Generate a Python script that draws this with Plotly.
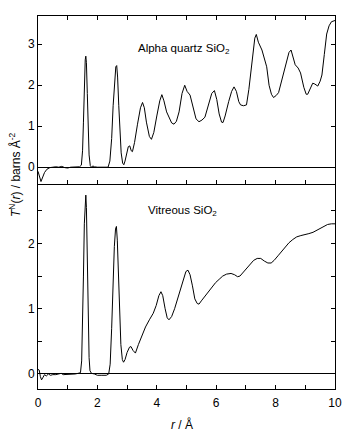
import plotly.graph_objects as go

# Alpha quartz SiO2 (top panel)
r_quartz = [0.00, 0.05, 0.10, 0.16, 0.22, 0.30, 0.40, 0.50, 0.60, 0.70, 0.80, 0.90, 1.00, 1.10, 1.20, 1.30, 1.40,
            1.46, 1.50, 1.53, 1.56, 1.59, 1.61, 1.63, 1.66, 1.69, 1.72, 1.76, 1.80, 1.85, 1.90, 2.00, 2.20, 2.36,
            2.42, 2.48, 2.53, 2.58, 2.62, 2.65, 2.68, 2.72, 2.76, 2.80, 2.85, 2.89, 2.93, 2.98, 3.04, 3.09, 3.14,
            3.18, 3.25, 3.35, 3.45, 3.52, 3.58, 3.65, 3.75, 3.82, 3.90, 4.00, 4.10, 4.17, 4.24, 4.33, 4.42, 4.50,
            4.58, 4.66, 4.75, 4.85, 4.94, 5.02, 5.12, 5.22, 5.32, 5.42, 5.52, 5.62, 5.72, 5.85, 5.94, 6.02, 6.10,
            6.18, 6.23, 6.30, 6.42, 6.52, 6.60, 6.68, 6.76, 6.82, 6.92, 7.02, 7.10, 7.20, 7.30, 7.35, 7.42, 7.54,
            7.62, 7.70, 7.78, 7.86, 7.93, 8.02, 8.10, 8.22, 8.35, 8.45, 8.52, 8.58, 8.66, 8.76, 8.84, 8.95, 9.03,
            9.08, 9.15, 9.25, 9.32, 9.42, 9.50, 9.56, 9.64, 9.72, 9.80, 9.88, 10.00]
t_quartz = [-0.10, -0.25, -0.35, -0.24, -0.13, -0.05, -0.01, 0.00, 0.01, 0.00, 0.02, -0.01, -0.02, 0.00, 0.00, 0.01, 0.01,
            0.05, 0.40, 1.10, 2.00, 2.62, 2.71, 2.55, 1.80, 0.90, 0.30, 0.04, 0.00, 0.03, 0.01, 0.00, 0.00, 0.00,
            0.15, 0.70, 1.50, 2.15, 2.45, 2.48, 2.20, 1.50, 0.80, 0.35, 0.10, 0.06, 0.15, 0.35, 0.50, 0.52, 0.40,
            0.38, 0.60, 1.05, 1.45, 1.58, 1.45, 1.10, 0.75, 0.68, 0.85, 1.25, 1.62, 1.77, 1.62, 1.35, 1.20, 1.08,
            1.05, 1.12, 1.35, 1.80, 2.00, 1.85, 1.76, 1.45, 1.18, 1.11, 1.15, 1.22, 1.45, 1.80, 1.87, 1.65, 1.30,
            1.10, 1.09, 1.25, 1.60, 1.85, 1.96, 1.85, 1.60, 1.52, 1.50, 1.52, 1.90, 2.60, 3.15, 3.24, 3.05, 2.86,
            2.65, 2.45, 2.00, 1.78, 1.70, 1.75, 1.82, 2.15, 2.55, 2.80, 2.86, 2.70, 2.50, 2.42, 2.30, 1.95, 1.78,
            1.78, 1.88, 2.05, 2.03, 1.98, 2.10, 2.25, 2.75, 3.25, 3.45, 3.55, 3.58]

# Vitreous SiO2 (bottom panel)
r_glass = [0.00, 0.04, 0.08, 0.12, 0.17, 0.22, 0.28, 0.35, 0.42, 0.50, 0.60, 0.70, 0.78, 0.85, 0.95, 1.05, 1.15, 1.25,
           1.35, 1.43, 1.47, 1.50, 1.53, 1.56, 1.59, 1.61, 1.63, 1.66, 1.69, 1.72, 1.75, 1.80, 1.90, 2.00, 2.15,
           2.30, 2.38, 2.43, 2.48, 2.53, 2.57, 2.61, 2.64, 2.67, 2.71, 2.75, 2.79, 2.84, 2.88, 2.93, 3.00, 3.08,
           3.13, 3.20, 3.28, 3.38, 3.50, 3.62, 3.75, 3.88, 3.98, 4.07, 4.14, 4.20, 4.28, 4.35, 4.41, 4.50, 4.60,
           4.70, 4.80, 4.90, 4.98, 5.05, 5.12, 5.20, 5.28, 5.36, 5.42, 5.50, 5.60, 5.72, 5.85, 5.98, 6.10, 6.22,
           6.35, 6.50, 6.62, 6.72, 6.80, 6.90, 7.02, 7.14, 7.26, 7.38, 7.50, 7.62, 7.74, 7.85, 7.95, 8.08, 8.20,
           8.32, 8.45, 8.58, 8.71, 8.85, 8.98, 9.12, 9.26, 9.38, 9.50, 9.62, 9.75, 9.88, 10.00]
t_glass = [0.07, 0.06, -0.04, -0.09, -0.05, -0.01, -0.03, 0.00, -0.02, -0.01, -0.01, 0.00, 0.01, -0.01, -0.01, 0.00, 0.00, 0.00,
           0.01, 0.02, 0.20, 0.70, 1.50, 2.30, 2.70, 2.74, 2.55, 1.80, 0.80, 0.25, 0.05, 0.01, 0.00, -0.02, -0.02,
           -0.02, 0.00, 0.15, 0.70, 1.45, 1.95, 2.22, 2.26, 2.05, 1.50, 0.90, 0.45, 0.22, 0.18, 0.22, 0.33, 0.41,
           0.42, 0.36, 0.32, 0.45, 0.60, 0.72, 0.83, 0.93, 1.05, 1.20, 1.26, 1.20, 1.00, 0.86, 0.83, 0.88, 1.00,
           1.15, 1.32, 1.48, 1.57, 1.59, 1.52, 1.35, 1.15, 1.08, 1.07, 1.12, 1.18, 1.24, 1.33, 1.40, 1.45, 1.50,
           1.53, 1.54, 1.52, 1.49, 1.50, 1.55, 1.61, 1.68, 1.74, 1.77, 1.77, 1.73, 1.70, 1.70, 1.74, 1.81, 1.88,
           1.95, 2.01, 2.06, 2.10, 2.12, 2.14, 2.15, 2.17, 2.20, 2.23, 2.26, 2.29, 2.30, 2.30]

FONT = "Liberation Sans, Arial, sans-serif"
fig = go.Figure()
fig.add_trace(go.Scatter(x=r_quartz, y=t_quartz, mode="lines", line=dict(color="black", width=1),
                         xaxis="x2", yaxis="y2", showlegend=False))
fig.add_trace(go.Scatter(x=r_glass, y=t_glass, mode="lines", line=dict(color="black", width=1),
                         xaxis="x", yaxis="y", showlegend=False))

split = 205 / 373
tick_style = dict(ticks="inside", ticklen=4, tickcolor="black", tickwidth=1)
minor_style = dict(ticks="inside", ticklen=4, tickcolor="black", tickwidth=1, showgrid=False)
common_x = dict(range=[0, 10], showgrid=False, showline=True, linecolor="black", linewidth=1,
                tick0=0, dtick=2, zeroline=False, minor=dict(dtick=1, **minor_style), **tick_style)
fig.update_layout(
    width=354, height=434,
    margin=dict(l=38, r=17, t=16, b=45),
    paper_bgcolor="white", plot_bgcolor="white",
    font=dict(family=FONT, size=12, color="black"),
    xaxis=dict(**common_x, anchor="y", mirror=False, showticklabels=True, tickfont=dict(size=12),
               ticklabelstandoff=3),
    xaxis2=dict(**common_x, anchor="y2", matches="x", mirror="ticks", showticklabels=False),
    yaxis=dict(domain=[0, split], range=[-0.23, 2.91], showgrid=False, showline=True, linecolor="black",
               linewidth=1, mirror="ticks", tick0=0, dtick=1, minor=dict(dtick=0.5, **minor_style),
               zeroline=True, zerolinecolor="black", zerolinewidth=1, tickfont=dict(size=12), **tick_style),
    yaxis2=dict(domain=[split, 1], range=[-0.41, 3.69], showgrid=False, showline=True, linecolor="black",
                linewidth=1, mirror="ticks", tick0=0, dtick=1,
                zeroline=True, zerolinecolor="black", zerolinewidth=1, tickfont=dict(size=12), **tick_style),
    annotations=[
        dict(text="Alpha quartz SiO<sub>2</sub>", x=3.31, y=2.885, xref="x2", yref="y2",
             xanchor="left", yanchor="middle", showarrow=False, font=dict(size=11.5)),
        dict(text="Vitreous SiO<sub>2</sub>", x=3.645, y=2.496, xref="x", yref="y",
             xanchor="left", yanchor="middle", showarrow=False, font=dict(size=11.5)),
        dict(text="<i>T</i><sup>N</sup>(<i>r</i>) / barns Å<sup>-2</sup>", x=-0.077, y=0.574,
             xref="paper", yref="paper", textangle=-90, xanchor="center", yanchor="middle",
             showarrow=False, font=dict(size=12)),
        dict(text="<i>r</i> / Å", x=0.485, y=-0.094, xref="paper", yref="paper",
             xanchor="center", yanchor="middle", showarrow=False, font=dict(size=12)),
    ],
)
fig.write_html("out.html")
